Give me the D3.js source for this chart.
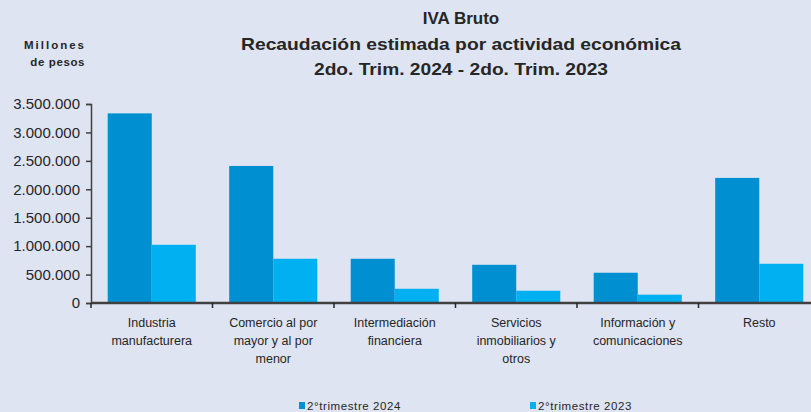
<!DOCTYPE html>
<html>
<head>
<meta charset="utf-8">
<script src="https://cdn.jsdelivr.net/npm/d3@7"></script>
<style>
  body { margin: 0; background: #dee4f2; }
  svg { display: block; font-family: "Liberation Sans", Arial, sans-serif; }
</style>
</head>
<body>
<div id="chart"></div>
<script>
// data (millones de pesos)
var categories = [
  ["Industria", "manufacturera"],
  ["Comercio al por", "mayor y al por", "menor"],
  ["Intermediación", "financiera"],
  ["Servicios", "inmobiliarios y", "otros"],
  ["Información y", "comunicaciones"],
  ["Resto"]
];
var series = ["2°trimestre 2024", "2°trimestre 2023"];
var values2024 = [3335000, 2410000, 778000, 672000, 532000, 2200000];
var values2023 = [1024000, 778000, 250000, 216000, 146000, 690000];
var yTicks = [0, 500000, 1000000, 1500000, 2000000, 2500000, 3000000, 3500000];
var colors = ["#008fd0", "#00b0f0"];

var width = 811, height = 412;
var margin = {top: 104, right: -9, bottom: 109, left: 91};

var svg = d3.select("#chart")
  .append("svg")
    .attr("width", width)
    .attr("height", height);

svg.append("rect").attr("width", width).attr("height", height).attr("fill", "#dee4f2");

var x = d3.scaleBand()
  .domain(d3.range(categories.length))
  .range([margin.left, width - margin.right])
  .paddingInner(0.275)
  .paddingOuter(0.1375);

var xs = d3.scaleBand()
  .domain([0, 1])
  .range([0, x.bandwidth()]);

var y = d3.scaleLinear()
  .domain([0, 3500000])
  .range([height - margin.bottom, margin.top]);

var fmt = function(v) { return d3.format(",")(v).replace(/,/g, "."); };

// titles
var title = svg.append("g").attr("text-anchor", "middle")
  .attr("font-weight", "bold").attr("fill", "#262626");
title.append("text").attr("x", 461).attr("y", 24).attr("font-size", 17).text("IVA Bruto");
title.append("text").attr("x", 461).attr("y", 50).attr("font-size", 17)
  .attr("textLength", 440).attr("lengthAdjust", "spacingAndGlyphs")
  .text("Recaudación estimada por actividad económica");
title.append("text").attr("x", 461).attr("y", 75).attr("font-size", 17)
  .attr("textLength", 294).attr("lengthAdjust", "spacingAndGlyphs")
  .text("2do. Trim. 2024 - 2do. Trim. 2023");

var unit = svg.append("g").attr("text-anchor", "end")
  .attr("font-weight", "bold").attr("font-size", 11.5).attr("fill", "#262626");
unit.append("text").attr("x", 86).attr("y", 49).attr("letter-spacing", 2).text("Millones");
unit.append("text").attr("x", 85).attr("y", 66).attr("letter-spacing", 0.6).text("de pesos");

// bars
var groups = svg.selectAll("g.cat")
  .data(categories)
  .enter()
  .append("g")
    .attr("class", "cat")
    .attr("transform", function(d, i) { return "translate(" + x(i) + ",0)"; });

groups.selectAll("rect")
  .data(function(d, i) { return [values2024[i], values2023[i]]; })
  .enter()
  .append("rect")
    .attr("x", function(d, j) { return xs(j); })
    .attr("y", function(d) { return y(d); })
    .attr("width", xs.bandwidth())
    .attr("height", function(d) { return y(0) - y(d); })
    .attr("fill", function(d, j) { return colors[j]; });

// y axis
var yAxis = svg.append("g")
  .attr("transform", "translate(" + margin.left + ",0)")
  .call(d3.axisLeft(y).tickValues(yTicks).tickFormat(fmt).tickSize(5).tickPadding(6));
yAxis.select(".domain").attr("stroke", "#404040").attr("stroke-width", 1.5);
yAxis.selectAll(".tick line").attr("stroke", "#404040").attr("stroke-width", 1.5);
yAxis.selectAll("text").attr("font-size", 15).attr("fill", "#262626")
  .attr("font-family", "Liberation Sans, Arial, sans-serif");

// x axis
var step = x.step();
var bounds = d3.range(categories.length).map(function(i) { return x(i) - x.paddingInner() * step / 2; });
svg.append("line")
  .attr("x1", margin.left).attr("x2", width)
  .attr("y1", y(0)).attr("y2", y(0))
  .attr("stroke", "#404040").attr("stroke-width", 2.5);
svg.selectAll("line.xtick")
  .data(bounds)
  .enter()
  .append("line")
    .attr("class", "xtick")
    .attr("x1", function(d) { return d; }).attr("x2", function(d) { return d; })
    .attr("y1", y(0)).attr("y2", y(0) + 5)
    .attr("stroke", "#262626").attr("stroke-width", 1.5);

// category labels
var labels = svg.selectAll("text.cat")
  .data(categories)
  .enter()
  .append("text")
    .attr("class", "cat")
    .attr("text-anchor", "middle")
    .attr("font-size", 12.5)
    .attr("fill", "#262626");
labels.selectAll("tspan")
  .data(function(d, i) { return d.map(function(t) { return {t: t, i: i}; }); })
  .enter()
  .append("tspan")
    .attr("x", function(d) { return x(d.i) + x.bandwidth() / 2; })
    .attr("y", function(d, k) { return 327 + k * 18; })
    .text(function(d) { return d.t; });

// legend
var legend = svg.selectAll("g.legend")
  .data(series)
  .enter()
  .append("g")
    .attr("class", "legend")
    .attr("transform", function(d, i) { return "translate(" + (299 + i * 231) + ",402)"; });
legend.append("rect").attr("width", 6).attr("height", 7).attr("fill", function(d, i) { return colors[i]; });
legend.append("text").attr("x", 8).attr("y", 7.5).attr("font-size", 11.5).attr("fill", "#262626")
  .attr("letter-spacing", 0.6)
  .text(function(d) { return d; });
</script>
</body>
</html>
